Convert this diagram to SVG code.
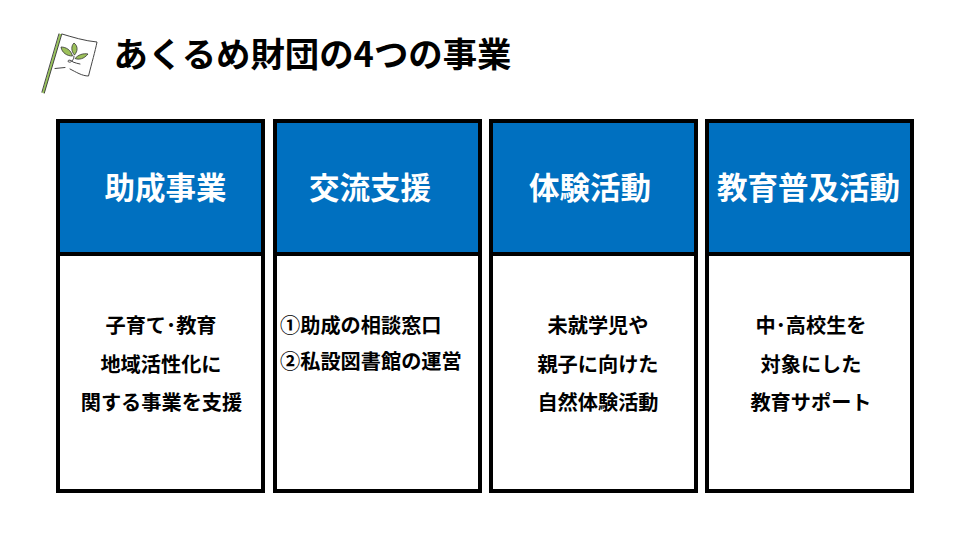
<svg xmlns="http://www.w3.org/2000/svg" width="960" height="540" viewBox="0 0 960 540">
<style>
text{font-family:"Noto Sans CJK JP","Liberation Sans",sans-serif;font-weight:700;text-anchor:middle}
.h{fill:#0070c0;stroke:#000;stroke-width:4}
.b{fill:#fff;stroke:#000;stroke-width:4}
.ht{fill:#fff;font-size:30.500px}
.bt{fill:#000;font-size:20.200px}
.s{text-anchor:start}
.fl{fill:none;stroke:#444;stroke-width:1;stroke-linecap:round;stroke-linejoin:round}
.lf{fill:#9cc05a;stroke:#333;stroke-width:.8}
</style>
<rect width="960" height="540" fill="#fff"/>
<g id="icon">
<path d="M43.200 93 L60.500 34" fill="none" stroke="#9bc85c" stroke-width="2.400"/>
<path d="M41.800 92.500 L59 33.500 M44.200 93.500 L61.800 34" fill="none" stroke="#333" stroke-width=".9"/>
<path class="fl" d="M62 34 C72 37 85 41 97 42 C95 52 92 62 88.500 76 C82 76 76 72 70 69 M65 67.500 L55 68.500"/>
<path class="lf" d="M61 47 C66 47 71 50 72.500 56 C67 56 62 53 61 47Z"/>
<path class="lf" d="M74 43 C78 46 78 51 74.500 55 C71 51 71 46 74 43Z"/>
<path class="lf" d="M88 54 C84 59 79 60 75 58.500 C78 55 83 53 88 54Z"/>
<path class="fl" d="M74 56 C74 60 71 63 68.500 62 C67 60 70 59 73 62 C75 63 78 63.500 80 64"/>
</g>
<g id="title"><text x="312.500" y="66.500" style="font-size:34.400px;fill:#000">あくるめ財団の4つの事業</text></g>
<g id="card1">
<rect class="b" x="58" y="254" width="205" height="237"/>
<rect class="h" x="58" y="121" width="205" height="133"/>
<text class="ht" x="165.500" y="199">助成事業</text>
<text class="bt" x="161" y="333">子育て･教育</text>
<text class="bt" x="161" y="372">地域活性化に</text>
<text class="bt" x="161.500" y="410">関する事業を支援</text>
</g>
<g id="card2">
<rect class="b" x="275" y="254" width="205" height="237"/>
<rect class="h" x="275" y="121" width="205" height="133"/>
<text class="ht" x="370" y="199">交流支援</text>
<text class="bt s" x="280" y="333">①助成の相談窓口</text>
<text class="bt s" x="280" y="369">②私設図書館の運営</text>
</g>
<g id="card3">
<rect class="b" x="491" y="254" width="205" height="237"/>
<rect class="h" x="491" y="121" width="205" height="133"/>
<text class="ht" x="590" y="199">体験活動</text>
<text class="bt" x="598" y="333">未就学児や</text>
<text class="bt" x="598" y="372">親子に向けた</text>
<text class="bt" x="598" y="410">自然体験活動</text>
</g>
<g id="card4">
<rect class="b" x="707" y="254" width="205" height="237"/>
<rect class="h" x="707" y="121" width="205" height="133"/>
<text class="ht" x="808.500" y="199">教育普及活動</text>
<text class="bt" x="811" y="333">中･高校生を</text>
<text class="bt" x="811" y="372">対象にした</text>
<text class="bt" x="811" y="410">教育サポート</text>
</g>
</svg>
